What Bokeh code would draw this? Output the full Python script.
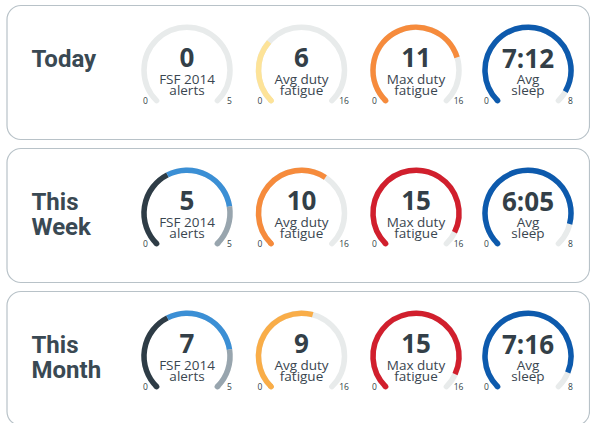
from bokeh.plotting import figure
from bokeh.models import ColumnDataSource, BoxAnnotation, Range1d
from bokeh.core.properties import value
from bokeh.embed import file_html
from bokeh.resources import INLINE

W, H = 590, 423

# ---------------- data ----------------
periods = [["Today"], ["This", "Week"], ["This", "Month"]]
gauge_labels = [["FSF 2014", "alerts"], ["Avg duty", "fatigue"],
                ["Max duty", "fatigue"], ["Avg", "sleep"]]
gauge_min = [0, 0, 0, 0]
gauge_max = [5, 16, 16, 8]

fsf_alerts = [0, 5, 7]
avg_duty_fatigue = [6, 10, 9]
max_duty_fatigue = [11, 15, 15]
avg_sleep = ["7:12", "6:05", "7:16"]

# arc fill levels as drawn in the picture
fsf_alerts_arc = [0, 5, 5]
avg_duty_arc = [5.1, 10, 8.9]
max_duty_arc = [12.3, 14.9, 14.8]
avg_sleep_arc = [7.55, 7.1, 7.33]

# FSF alert bands
fsf_band_edges = [0, 2, 4, 5]
fsf_band_colors = ["#2e3c46", "#3b8fd5", "#98a5ae"]

avg_duty_colors = ["#fde398", "#f68b3c", "#f9ad48"]
max_duty_colors = ["#f68b3c", "#d11f2d", "#d11f2d"]
sleep_colors = ["#0d5aad", "#0d5aad", "#0d5aad"]

# ---------------- style / layout ----------------
TRACK = "#e8ebeb"
DARK = "#333f48"
TITLE = "#3a4953"
card_tops = [5, 148, 291]
card_h = 134
gx = [186.5, 301, 415.5, 527.5]
R = 43
LW = 5.5
START, SWEEP = 225.0, 270.0

p = figure(width=W, height=H, x_range=Range1d(0, W), y_range=Range1d(0, H),
           output_backend="svg", toolbar_location=None, min_border=0,
           x_axis_type=None, y_axis_type=None, outline_line_color=None)
p.background_fill_color = "white"
p.border_fill_color = "white"

for t in card_tops:
    p.add_layout(BoxAnnotation(left=6.5, right=589, top=H - t, bottom=H - t - card_h,
                               fill_color="white", fill_alpha=1,
                               line_color="#b8c2c8", line_alpha=1, line_width=1.2,
                               border_radius=14, level="underlay"))


def ang(v, vmax):
    return START - SWEEP * min(v, vmax) / vmax


track = dict(x=[], y=[], s=[], e=[])
butt = dict(x=[], y=[], s=[], e=[], c=[])
caps = dict(x=[], y=[], s=[], e=[], c=[])

num_txt = dict(x=[], y=[], t=[])
lab_txt = dict(x=[], y=[], t=[])
tick_txt = dict(x=[], y=[], t=[])
title_txt = dict(x=[], y=[], t=[])

for r, top in enumerate(card_tops):
    cy_s = top + 64.7          # gauge centre (screen, from top)
    cy = H - cy_s
    for i, lines in enumerate(periods[r]):
        title_txt["x"].append(31)
        title_txt["y"].append(H - (top + 53.5 + 25 * i))
        title_txt["t"].append(lines)

    displays = [str(fsf_alerts[r]), str(avg_duty_fatigue[r]),
                str(max_duty_fatigue[r]), avg_sleep[r]]
    for g in range(4):
        x = gx[g]
        vmax = gauge_max[g]
        track["x"].append(x); track["y"].append(cy)
        track["s"].append(-45.0); track["e"].append(225.0)

        segs = []
        if g == 0:
            lvl = fsf_alerts_arc[r]
            for b in range(3):
                lo, hi = fsf_band_edges[b], fsf_band_edges[b + 1]
                if lvl > lo:
                    segs.append((lo, min(lvl, hi), fsf_band_colors[b]))
        else:
            lvl = [None, avg_duty_arc, max_duty_arc, avg_sleep_arc][g][r]
            col = [None, avg_duty_colors, max_duty_colors, sleep_colors][g][r]
            segs.append((0, lvl, col))
        for lo, hi, col in segs:
            butt["x"].append(x); butt["y"].append(cy)
            butt["s"].append(ang(hi, vmax)); butt["e"].append(ang(lo, vmax))
            butt["c"].append(col)
        if segs:
            caps["x"].append(x); caps["y"].append(cy)
            caps["s"].append(START - 0.3); caps["e"].append(START)
            caps["c"].append(segs[0][2])
            if segs[-1][1] >= vmax:
                caps["x"].append(x); caps["y"].append(cy)
                caps["s"].append(-45.0); caps["e"].append(-44.7)
                caps["c"].append(segs[-1][2])

        num_txt["x"].append(x); num_txt["y"].append(H - (cy_s - 12.5))
        num_txt["t"].append(displays[g])
        for k, ln in enumerate(gauge_labels[g]):
            lab_txt["x"].append(x); lab_txt["y"].append(H - (cy_s + 8.5 + 10.8 * k))
            lab_txt["t"].append(ln)
        tick_txt["x"] += [x - 41.5, x + 42.5]
        tick_txt["y"] += [H - (cy_s + 30.5), H - (cy_s + 30.5)]
        tick_txt["t"] += [str(gauge_min[g]), str(vmax)]

p.arc(x="x", y="y", radius=R, start_angle="s", end_angle="e", start_angle_units="deg",
      end_angle_units="deg", direction="anticlock", line_color=TRACK, line_width=LW,
      line_cap="round", source=ColumnDataSource(track))
p.arc(x="x", y="y", radius=R, start_angle="s", end_angle="e", start_angle_units="deg",
      end_angle_units="deg", direction="anticlock", line_color="c", line_width=LW,
      line_cap="butt", source=ColumnDataSource(butt))
p.arc(x="x", y="y", radius=R, start_angle="s", end_angle="e", start_angle_units="deg",
      end_angle_units="deg", direction="anticlock", line_color="c", line_width=LW,
      line_cap="round", source=ColumnDataSource(caps))

p.text(x="x", y="y", text="t", source=ColumnDataSource(title_txt),
       text_font=value("Roboto"), text_font_style="bold", text_font_size="24px",
       text_color=TITLE, text_align="left", text_baseline="alphabetic")
p.text(x="x", y="y", text="t", source=ColumnDataSource(num_txt),
       text_font=value("Open Sans"), text_font_style="bold", text_font_size="26px",
       text_color=DARK, text_align="center", text_baseline="alphabetic")
p.text(x="x", y="y", text="t", source=ColumnDataSource(lab_txt),
       text_font=value("Open Sans"), text_font_size="13.5px",
       text_color="#3a4650", text_align="center", text_baseline="alphabetic")
p.text(x="x", y="y", text="t", source=ColumnDataSource(tick_txt),
       text_font=value("Open Sans"), text_font_size="8.5px",
       text_color=DARK, text_align="center", text_baseline="alphabetic")

open("out.html", "w").write(file_html(p, INLINE))
